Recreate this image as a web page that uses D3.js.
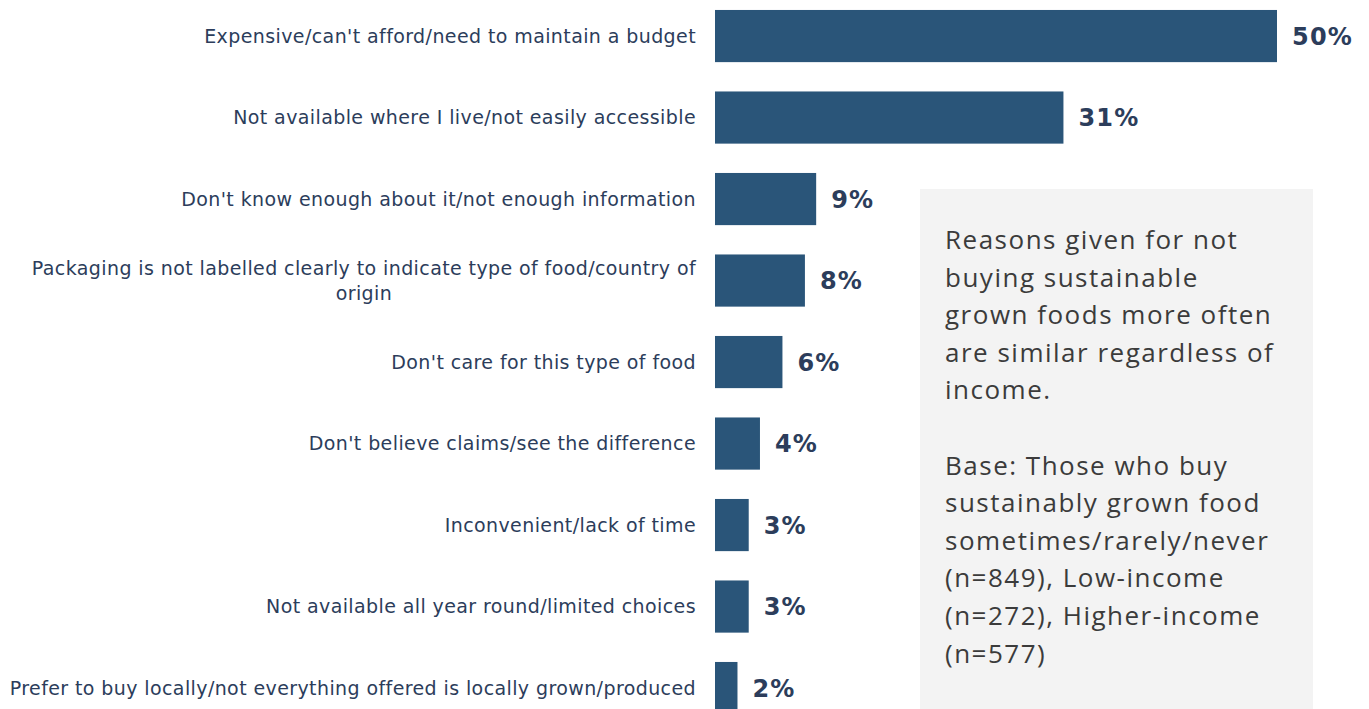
<!DOCTYPE html>
<html>
<head>
<meta charset="utf-8">
<script src="https://cdn.jsdelivr.net/npm/d3@7"></script>
<style>
  body { margin: 0; background: #fff; }
  svg { display: block; }
</style>
</head>
<body>
<div id="chart"></div>
<script>
const reasons = [
  "Expensive/can't afford/need to maintain a budget",
  "Not available where I live/not easily accessible",
  "Don't know enough about it/not enough information",
  "Packaging is not labelled clearly to indicate type of food/country of|origin",
  "Don't care for this type of food",
  "Don't believe claims/see the difference",
  "Inconvenient/lack of time",
  "Not available all year round/limited choices",
  "Prefer to buy locally/not everything offered is locally grown/produced"
];
const shares = [50, 31, 9, 8, 6, 4, 3, 3, 2];

const noteLines = [
  "Reasons given for not",
  "buying sustainable",
  "grown foods more often",
  "are similar regardless of",
  "income.",
  "",
  "Base: Those who buy",
  "sustainably grown food",
  "sometimes/rarely/never",
  "(n=849), Low-income",
  "(n=272), Higher-income",
  "(n=577)"
];

const width = 1369, height = 709;
const barColor = '#2a5579';
const textColor = '#2c3d5b';
const labelFont = '"DejaVu Sans", Verdana, sans-serif';

const svg = d3.select('#chart').append('svg')
  .attr('width', width)
  .attr('height', height);

const data = reasons.map((r, i) => ({ label: r, value: shares[i] }));

const step = 81.5;
const y = d3.scaleBand()
  .domain(reasons)
  .range([-4.7, -4.7 + step * reasons.length])
  .paddingInner(0.36)
  .paddingOuter(0.18);

const x = d3.scaleLinear()
  .domain([0, 50])
  .range([715, 1277]);

// note box
svg.append('rect')
  .attr('x', 920)
  .attr('y', 189)
  .attr('width', 393)
  .attr('height', 540)
  .attr('fill', '#f3f3f3');

svg.append('g')
  .selectAll('text')
  .data(noteLines)
  .join('text')
  .attr('x', 945)
  .attr('y', (d, i) => 249 + i * 37.6)
  .attr('font-family', '"Open Sans", Lato, sans-serif')
  .attr('font-size', 26)
  .attr('letter-spacing', 1.5)
  .attr('fill', '#3b3b3b')
  .text(d => d);

// bars
svg.append('g')
  .selectAll('rect')
  .data(data)
  .join('rect')
  .attr('x', x(0))
  .attr('y', d => y(d.label))
  .attr('width', d => x(d.value) - x(0))
  .attr('height', y.bandwidth())
  .attr('fill', barColor);

// value labels
svg.append('g')
  .selectAll('text')
  .data(data)
  .join('text')
  .attr('x', d => x(d.value) + 15)
  .attr('y', d => y(d.label) + y.bandwidth() / 2)
  .attr('dy', '0.36em')
  .attr('font-family', labelFont)
  .attr('font-weight', 'bold')
  .attr('font-size', 24)
  .attr('letter-spacing', 1.2)
  .attr('fill', textColor)
  .text(d => d.value + '%');

// category labels
const labels = svg.append('g')
  .selectAll('g')
  .data(data)
  .join('g')
  .attr('transform', d => `translate(696,${y(d.label) + y.bandwidth() / 2})`);

labels.each(function (d) {
  const g = d3.select(this);
  const parts = d.label.split('|');
  const first = g.append('text')
    .attr('text-anchor', 'end')
    .attr('font-family', labelFont)
    .attr('font-size', 19)
    .attr('letter-spacing', 0.4)
    .attr('fill', textColor)
    .attr('y', parts.length > 1 ? -12.5 : 0)
    .attr('dy', '0.36em')
    .text(parts[0]);
  if (parts.length > 1) {
    const w = first.node().getComputedTextLength();
    g.append('text')
      .attr('text-anchor', 'middle')
      .attr('x', -w / 2)
      .attr('y', 12.5)
      .attr('dy', '0.36em')
      .attr('font-family', labelFont)
      .attr('font-size', 19)
      .attr('letter-spacing', 0.4)
      .attr('fill', textColor)
      .text(parts[1]);
  }
});
</script>
</body>
</html>
